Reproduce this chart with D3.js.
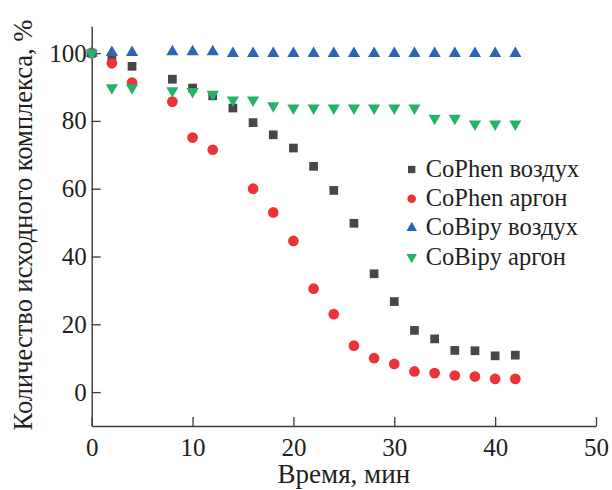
<!DOCTYPE html>
<html>
<head>
<meta charset="utf-8">
<script src="https://cdn.jsdelivr.net/npm/d3@7"></script>
<style>
  html, body { margin: 0; padding: 0; background: #fff; }
  svg { display: block; }
</style>
</head>
<body>
<svg id="chart" width="612" height="490"></svg>
<script>
// Time points, minutes
const timeAll = [0, 2, 4, 8, 10, 12, 14, 16, 18, 20, 22, 24, 26, 28, 30, 32, 34, 36, 38, 40, 42];
const timeArgonPhen = [0, 2, 4, 8, 10, 12, 16, 18, 20, 22, 24, 26, 28, 30, 32, 34, 36, 38, 40, 42];

// Remaining starting complex, %
const cophenAir   = [100, 98.8, 96.1, 92.3, 89.7, 87.4, 83.8, 79.5, 75.9, 72.0, 66.6, 59.5, 49.8, 34.9, 26.7, 18.2, 15.7, 12.3, 12.2, 10.7, 10.9];
const cophenArgon = [100, 97.0, 91.3, 85.7, 75.1, 71.5, 60.0, 53.0, 44.6, 30.5, 23.0, 13.7, 10.0, 8.3, 6.1, 5.6, 4.9, 4.6, 3.9, 3.9];
const cobipyAir   = [100, 100.2, 100.2, 100.4, 100.4, 100.4, 99.9, 99.9, 99.9, 99.9, 99.9, 99.9, 99.9, 99.9, 99.9, 99.9, 99.9, 99.9, 99.9, 99.9, 99.9];
const cobipyArgon = [100, 89.8, 89.8, 88.9, 88.7, 87.9, 86.2, 86.2, 84.5, 83.8, 83.8, 83.8, 83.8, 83.8, 83.8, 83.8, 80.8, 80.8, 79.1, 79.1, 79.1];

const xTicks = [0, 10, 20, 30, 40, 50];
const yTicks = [0, 20, 40, 60, 80, 100];

const seriesNames = ["CoPhen воздух", "CoPhen аргон", "CoBipy воздух", "CoBipy аргон"];
const xLabel = "Время, мин";
const yLabel = "Количество исходного комплекса, %";

const series = [
  { name: seriesNames[0], x: timeAll,       y: cophenAir,   color: "#474747", shape: d3.symbolSquare,   size: 76, legendSize: 54, rot: 0 },
  { name: seriesNames[1], x: timeArgonPhen, y: cophenArgon, color: "#ec3339", shape: d3.symbolCircle,   size: 90, legendSize: 58, rot: 0 },
  { name: seriesNames[2], x: timeAll,       y: cobipyAir,   color: "#2b65b4", shape: d3.symbolTriangle, size: 64, legendSize: 48, rot: 0 },
  { name: seriesNames[3], x: timeAll,       y: cobipyArgon, color: "#27b26a", shape: d3.symbolTriangle, size: 64, legendSize: 48, rot: 180 }
];

const FONT = "'Liberation Serif', Tinos, 'DejaVu Serif', 'Times New Roman', serif";
const textColor = "#231f20";
const axisColor = "#3a3a3a";

const svg = d3.select("#chart");

const x = d3.scaleLinear().domain([0, 50]).range([91.7, 596]);
const y = d3.scaleLinear().domain([-10, 108]).range([426, 26]);

function styleAxis(g) {
  g.attr("font-family", FONT).attr("font-size", 25);
  g.select(".domain").attr("stroke", axisColor).attr("stroke-width", 1.4);
  g.selectAll(".tick line").attr("stroke", axisColor).attr("stroke-width", 1.3);
  g.selectAll(".tick text").style("font-family", FONT).attr("fill", textColor);
}

// x axis with inward ticks
svg.append("g")
  .attr("transform", `translate(0,${y(-10)})`)
  .call(d3.axisBottom(x).tickValues(xTicks).tickFormat(d3.format("d"))
    .tickSizeInner(-9).tickSizeOuter(0).tickPadding(12))
  .call(styleAxis);

// y axis with inward ticks
svg.append("g")
  .attr("transform", `translate(${x(0)},0)`)
  .call(d3.axisLeft(y).tickValues(yTicks).tickFormat(d3.format("d"))
    .tickSizeInner(-9).tickSizeOuter(0).tickPadding(5))
  .call(styleAxis);

// axis titles
svg.append("text")
  .attr("x", (x(0) + x(50)) / 2).attr("y", 483)
  .attr("text-anchor", "middle").attr("font-size", 27)
  .style("font-family", FONT).attr("fill", textColor)
  .text(xLabel);

svg.append("text")
  .attr("transform", `translate(32,225) rotate(-90)`)
  .attr("text-anchor", "middle").attr("font-size", 26.5)
  .style("font-family", FONT).attr("fill", textColor)
  .text(yLabel);

// markers
series.forEach(s => {
  const path = d3.symbol().type(s.shape).size(s.size)();
  svg.append("g").selectAll("path")
    .data(s.x.map((t, i) => [t, s.y[i]]))
    .join("path")
    .attr("d", path)
    .attr("transform", d => `translate(${x(d[0])},${y(d[1])}) rotate(${s.rot})`)
    .attr("fill", s.color);
});

// legend
const legend = svg.append("g");
const legendX = 411.7, textX = 425.7, legendY0 = 177, legendStep = 29.2;
series.forEach((s, i) => {
  const by = legendY0 + i * legendStep;
  legend.append("path")
    .attr("d", d3.symbol().type(s.shape).size(s.legendSize)())
    .attr("transform", `translate(${legendX},${by - 7.5}) rotate(${s.rot})`)
    .attr("fill", s.color);
  legend.append("text")
    .attr("x", textX).attr("y", by)
    .attr("font-size", 24.5)
    .style("font-family", FONT).attr("fill", textColor)
    .text(s.name);
});
</script>
</body>
</html>
